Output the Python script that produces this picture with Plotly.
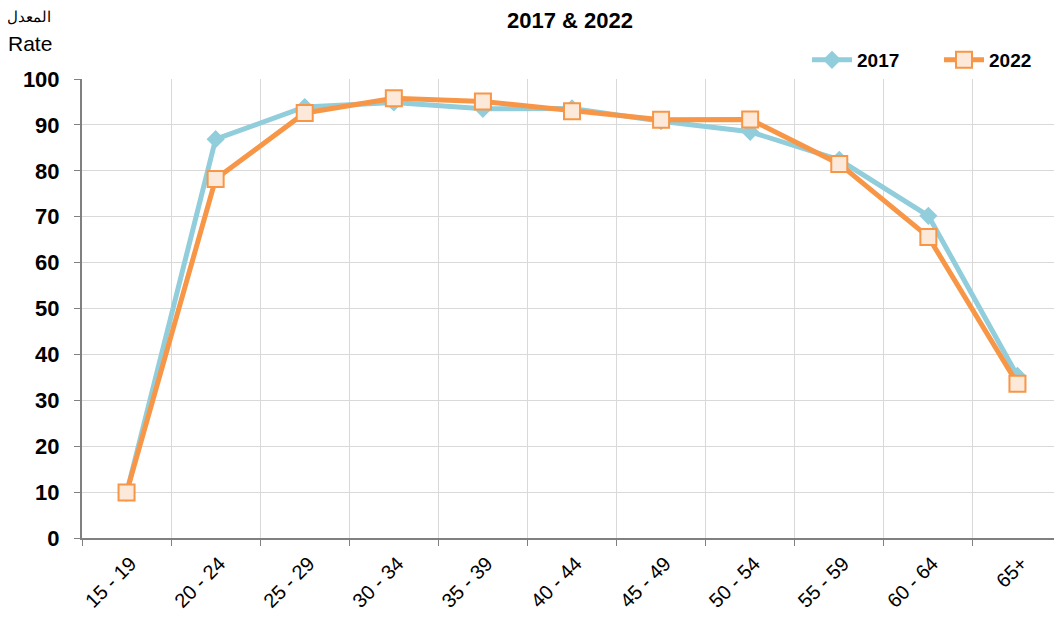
import plotly.graph_objects as go

categories = ["15 - 19", "20 - 24", "25 - 29", "30 - 34", "35 - 39", "40 - 44",
              "45 - 49", "50 - 54", "55 - 59", "60 - 64", "65+"]
rate_2017 = [9.8, 86.9, 93.9, 94.9, 93.5, 93.6, 90.8, 88.5, 82.4, 70.2, 35.3]
rate_2022 = [9.9, 78.2, 92.6, 95.8, 95.1, 93.0, 91.1, 91.2, 81.5, 65.6, 33.6]
y_ticks = list(range(0, 101, 10))

# the page body adds an 8px offset; figure coordinates below are page - 8
W, H = 1054, 616
L, T, B = 74, 71, 530  # plot left, top, bottom in figure pixels
pw = W - L
ph = B - T

fig = go.Figure()
fig.add_trace(go.Scatter(
    x=categories, y=rate_2017, name="2017", mode="lines+markers",
    line=dict(color="#92CDDC", width=5),
    marker=dict(symbol="diamond", size=14, color="#92CDDC"),
))
fig.add_trace(go.Scatter(
    x=categories, y=rate_2022, name="2022", mode="lines+markers",
    line=dict(color="#F79646", width=5),
    marker=dict(symbol="square", size=16, color="#FDE9D9",
                line=dict(color="#F79646", width=2)),
))

fig.update_layout(
    width=W, height=H,
    paper_bgcolor="white", plot_bgcolor="white",
    margin=dict(l=L, r=0, t=T, b=H - B, autoexpand=False),
    font=dict(family="Liberation Sans, Arial, sans-serif", color="black"),
    title=dict(text="<b>2017 & 2022</b>", x=562 / W, xanchor="center",
               xref="container", yref="container",
               y=1 - 12 / H, yanchor="middle", font=dict(size=22)),
    showlegend=True,
    legend=dict(orientation="h", x=(799 - L) / pw, xanchor="left",
                y=(B - 52) / ph, yanchor="middle",
                font=dict(size=19, weight="bold"), bgcolor="rgba(0,0,0,0)",
                traceorder="normal", entrywidth=77, itemwidth=40),
    xaxis=dict(
        type="category", range=[-0.5, 10.5], tickson="boundaries",
        ticks="outside", ticklen=6, tickcolor="#808080",
        showgrid=True, gridcolor="#D9D9D9", gridwidth=1,
        showline=True, linecolor="#808080", linewidth=2,
        tickangle=-45, tickfont=dict(size=20), zeroline=False,
        ticklabelstandoff=4, ticklabelshift=4,
        automargin=False,
    ),
    yaxis=dict(
        range=[0, 100], tickvals=y_ticks,
        ticks="outside", ticklen=6, tickcolor="#808080",
        showgrid=True, gridcolor="#D9D9D9", gridwidth=1,
        showline=True, linecolor="#808080", linewidth=2,
        tickfont=dict(size=22, weight="bold"), ticklabelstandoff=10,
        zeroline=False, automargin=False,
    ),
    annotations=[
        dict(text="المعدل", x=(21 - L) / pw, y=(B - 9) / ph,
             xref="paper", yref="paper", xanchor="center", yanchor="middle",
             showarrow=False, font=dict(size=15)),
        dict(text="Rate", x=(22 - L) / pw, y=(B - 35) / ph,
             xref="paper", yref="paper", xanchor="center", yanchor="middle",
             showarrow=False, font=dict(size=21)),
    ],
)

fig.write_html("out.html")
